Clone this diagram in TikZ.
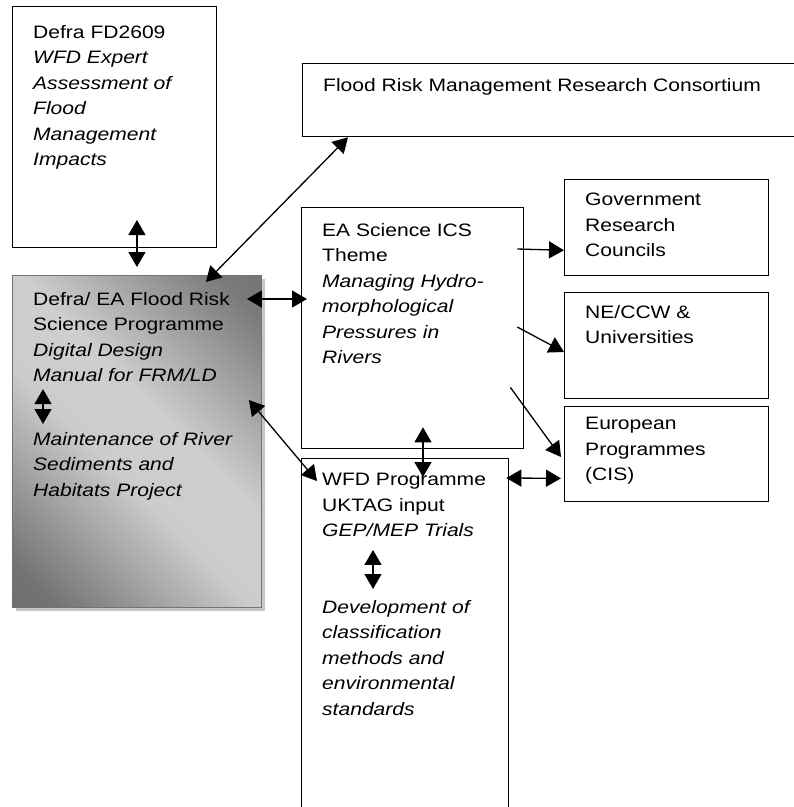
\documentclass[tikz,border=0pt]{standalone}
\usepackage{fontspec}
\setmainfont{Liberation Sans}[FakeStretch=1.17]
\usetikzlibrary{arrows.meta,positioning,shadows}

\pgfdeclarehorizontalshading{frsshade}{100bp}{
    color(0bp)=(black!60); color(20bp)=(black!55); color(44bp)=(black!20);
    color(56bp)=(black!19); color(80bp)=(black!52); color(100bp)=(black!60)}

\tikzset{
    box/.style={
        draw,
        line width=1.3pt,
        inner sep=0,
        anchor=north west,
    },
    boxtext/.style={
        inner sep=0,
        align=left,
        font=\fontsize{18}{25.5}\selectfont,
    },
    link/.style={
        line width=1.3pt,
        -{Triangle[length=15pt,width=17pt]},
    },
    both ways/.style={
        line width=1.3pt,
        {Triangle[length=15pt,width=17pt]}-{Triangle[length=15pt,width=17pt]},
    },
}

\begin{document}
\begin{tikzpicture}[x=1pt,y=1pt]
    \useasboundingbox (0,0) rectangle (794,-807);
    \fill[white] (0,0) rectangle (794,-807);

    % boxes
    \node[box, minimum width=204pt, minimum height=241pt] (fd) at (12,-6) {};
    \node[box, draw=black!55, line width=0.9pt,
          shading=frsshade, shading angle=45,
          drop shadow={shadow xshift=4pt, shadow yshift=-4pt, fill=black!22, opacity=1},
          minimum width=249pt, minimum height=332pt] (frs) at (12,-275) {};
    \node[box, minimum width=520pt, minimum height=73pt] (frmrc) at (302,-63) {};
    \node[box, minimum width=222pt, minimum height=241pt] (ics) at (301,-207) {};
    \node[box, minimum width=204pt, minimum height=96pt] (grc) at (564,-179) {};
    \node[box, minimum width=204pt, minimum height=106pt] (necw) at (564,-292) {};
    \node[box, minimum width=204pt, minimum height=95pt] (eur) at (564,-406) {};
    \node[box, minimum width=207pt, minimum height=360pt] (wfd) at (301,-458) {};

    % texts
    \node[boxtext, below right=19pt and 21pt of fd.north west] (fd-t)
        {Defra FD2609\\ \textit{WFD Expert}\\ \textit{Assessment of}\\ \textit{Flood}\\ \textit{Management}\\ \textit{Impacts}};
    \node[boxtext, below right=17pt and 21pt of frs.north west] (frs-top)
        {Defra/ EA Flood Risk\\ Science Programme\\ \textit{Digital Design}\\ \textit{Manual for FRM/LD}};
    \node[boxtext, below right=157pt and 21pt of frs.north west] (frs-bot)
        {\textit{Maintenance of River}\\ \textit{Sediments and}\\ \textit{Habitats Project}};
    \node[boxtext, below right=15pt and 21pt of frmrc.north west] (frmrc-t)
        {Flood Risk Management Research Consortium};
    \node[boxtext, below right=16pt and 21pt of ics.north west] (ics-t)
        {EA Science ICS\\ Theme\\ \textit{Managing Hydro-}\\ \textit{morphological}\\ \textit{Pressures in}\\ \textit{Rivers}};
    \node[boxtext, below right=14pt and 21pt of grc.north west] (grc-t)
        {Government\\ Research\\ Councils};
    \node[boxtext, below right=13pt and 21pt of necw.north west] (necw-t)
        {NE/CCW \&\\ Universities};
    \node[boxtext, below right=11pt and 21pt of eur.north west] (eur-t)
        {European\\ Programmes\\ (CIS)};
    \node[boxtext, below right=15pt and 21pt of wfd.north west] (wfd-top)
        {WFD Programme\\ UKTAG input\\ \textit{GEP/MEP Trials}};
    \node[boxtext, below right=142pt and 21pt of wfd.north west] (wfd-bot)
        {\textit{Development of}\\ \textit{classification}\\ \textit{methods and}\\ \textit{environmental}\\ \textit{standards}};

    % connectors
    \draw[both ways] ([yshift=55pt]frs.north) -- ([yshift=8pt]frs.north);
    \draw[both ways] ([xshift=-56pt,yshift=-7pt]frs.north east) -- ([xshift=46pt]frmrc.south west);
    \draw[both ways] ([xshift=-15pt,yshift=-24pt]frs.north east) -- ([xshift=6pt,yshift=-92pt]ics.north west);
    \draw[both ways] ([xshift=-13pt,yshift=-125pt]frs.north east) -- ([xshift=16pt,yshift=-23pt]wfd.north west);
    \draw[both ways] ([xshift=122pt,yshift=22pt]ics.south west) -- ([xshift=122pt,yshift=-19pt]wfd.north west);
    \draw[link] ([xshift=-7pt,yshift=-42pt]ics.north east) -- ([yshift=26pt]grc.south west);
    \draw[link] ([xshift=-7pt,yshift=-120pt]ics.north east) -- ([yshift=-60pt]necw.north west);
    \draw[link] ([xshift=-14pt,yshift=62pt]ics.south east) -- ([xshift=-3pt,yshift=-51pt]eur.north west);
    \draw[both ways] ([xshift=-3pt,yshift=-20pt]wfd.north east) -- ([xshift=-3pt,yshift=24pt]eur.south west);
    \draw[both ways] ([xshift=10pt,yshift=-7pt]frs-top.south west) -- ([xshift=10pt,yshift=8pt]frs-bot.north west);
    \draw[both ways] ([xshift=51pt,yshift=-13pt]wfd-top.south west) -- ([xshift=51pt,yshift=11pt]wfd-bot.north west);
\end{tikzpicture}
\end{document}
